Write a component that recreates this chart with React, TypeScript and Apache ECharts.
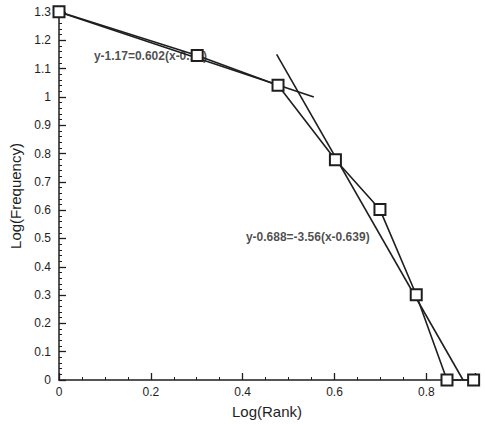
import React, { useEffect, useRef } from "react";
import * as echarts from "echarts";

const logRank = [0, 0.301, 0.477, 0.602, 0.699, 0.778, 0.845, 0.903];
const logFreq = [1.301, 1.146, 1.041, 0.778, 0.602, 0.301, 0, 0];

const fit1X = [0, 0.555];
const fit1Y = [1.3, 1.0];
const fit2X = [0.474, 0.88];
const fit2Y = [1.15, 0];

const label1 = { x: 0.076, y: 1.143, text: "y-1.17=0.602(x-0.18)" };
const label2 = { x: 0.407, y: 0.506, text: "y-0.688=-3.56(x-0.639)" };

const xTicks = [0, 0.2, 0.4, 0.6, 0.8];

const INK = "#1e1e1e";
const FONT = "Liberation Sans";

export default function App() {
  const ref = useRef<HTMLDivElement>(null);
  useEffect(() => {
    if (!ref.current) return;
    const chart = echarts.init(ref.current, undefined, { renderer: "svg" });
    const pairs = (xs: number[], ys: number[]) => xs.map((x, i) => [x, ys[i]]);
    chart.setOption({
      animation: false,
      backgroundColor: "#ffffff",
      grid: { left: 58, top: 12, right: 10, bottom: 39, containLabel: false },
      xAxis: {
        type: "value",
        min: 0,
        max: 0.906,
        interval: 0.2,
        name: "Log(Rank)",
        nameLocation: "middle",
        nameGap: 24,
        nameTextStyle: { fontFamily: FONT, fontSize: 15, color: INK },
        axisLine: { show: true, lineStyle: { color: INK, width: 1.5 } },
        axisTick: { show: true, inside: true, length: 7, lineStyle: { color: INK, width: 1.3 } },
        minorTick: { show: true, splitNumber: 4, length: 3, lineStyle: { color: INK, width: 1 } },
        axisLabel: {
          fontFamily: FONT,
          fontSize: 12,
          color: INK,
          margin: 6,
          showMaxLabel: false,
          formatter: (v: number) => (xTicks.some((t) => Math.abs(t - v) < 1e-6) ? String(+v.toFixed(1)) : ""),
        },
        splitLine: { show: false },
      },
      yAxis: {
        type: "value",
        min: 0,
        max: 1.3,
        interval: 0.1,
        name: "Log(Frequency)",
        nameLocation: "middle",
        nameGap: 36,
        nameRotate: 90,
        nameTextStyle: { fontFamily: FONT, fontSize: 15, color: INK },
        axisLine: { show: true, lineStyle: { color: INK, width: 1.5 } },
        axisTick: { show: true, inside: true, length: 7, lineStyle: { color: INK, width: 1.3 } },
        minorTick: { show: true, splitNumber: 5, length: 3, lineStyle: { color: INK, width: 1 } },
        axisLabel: {
          fontFamily: FONT,
          fontSize: 12,
          color: INK,
          margin: 8,
          formatter: (v: number) => String(+v.toFixed(1)),
        },
        splitLine: { show: false },
      },
      series: [
        {
          type: "scatter",
          symbolSize: 0,
          silent: true,
          z: 1,
          data: [
            { value: [label1.x, label1.y], name: label1.text },
            { value: [label2.x, label2.y], name: label2.text },
          ],
          label: {
            show: true,
            position: [0, 0],
            align: "left",
            verticalAlign: "middle",
            formatter: (p: any) => p.name,
            fontFamily: FONT,
            fontSize: 12,
            fontWeight: "bold",
            color: INK,
          },
        },
        {
          type: "line",
          data: pairs(fit1X, fit1Y),
          symbol: "none",
          z: 2,
          lineStyle: { color: INK, width: 1.6 },
        },
        {
          type: "line",
          data: pairs(fit2X, fit2Y),
          symbol: "none",
          z: 2,
          lineStyle: { color: INK, width: 1.6 },
        },
        {
          type: "line",
          data: pairs(logRank, logFreq),
          symbol: "rect",
          symbolSize: 11,
          showAllSymbol: true,
          z: 3,
          clip: false,
          lineStyle: { color: INK, width: 1.6 },
          itemStyle: { color: "#ffffff", borderColor: INK, borderWidth: 2 },
        },
      ],
    });
    return () => chart.dispose();
  }, []);
  return (
    <div
      ref={ref}
      style={{ position: "fixed", left: 0, top: 0, width: 485, height: 424 }}
    />
  );
}
